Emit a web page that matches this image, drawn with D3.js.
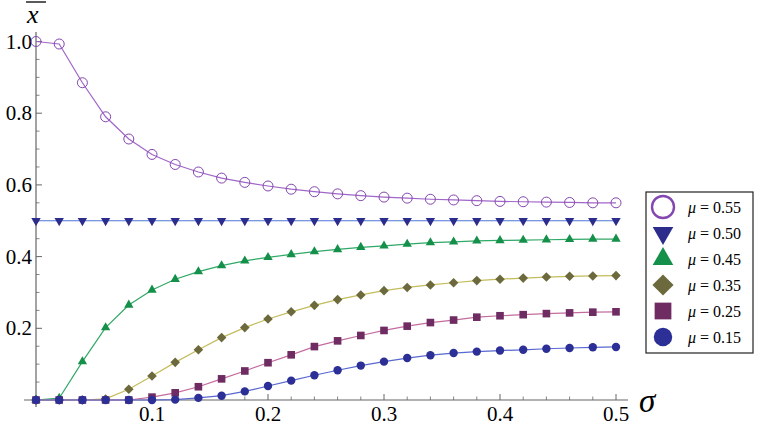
<!DOCTYPE html>
<html>
<head>
<meta charset="utf-8">
<script src="https://cdn.jsdelivr.net/npm/d3@7"></script>
</head>
<body style="margin:0">
<svg id="chart" width="757" height="428"></svg>
<script>

const sigmas = d3.range(26).map((i) => +(i * 0.02).toFixed(2));

const mus = ['0.55', '0.50', '0.45', '0.35', '0.25', '0.15'];

const mu055 = [1.0, 0.993, 0.885, 0.79, 0.728, 0.685, 0.657, 0.636, 0.619, 0.607, 0.597, 0.588, 0.581,
  0.575, 0.570, 0.566, 0.563, 0.560, 0.558, 0.556, 0.554, 0.553, 0.552, 0.551, 0.550, 0.550];
const mu050 = sigmas.map(() => 0.5);
const mu045 = [0, 0.005, 0.107, 0.202, 0.265, 0.307, 0.337, 0.358, 0.375, 0.388, 0.398, 0.406, 0.414,
  0.420, 0.426, 0.430, 0.435, 0.439, 0.441, 0.444, 0.445, 0.446, 0.447, 0.448, 0.449, 0.449];
const mu035 = [0, 0, 0, 0.003, 0.030, 0.067, 0.105, 0.140, 0.174, 0.202, 0.226, 0.246, 0.264,
  0.280, 0.293, 0.305, 0.314, 0.321, 0.327, 0.333, 0.337, 0.340, 0.343, 0.345, 0.346, 0.347];
const mu025 = [0, 0, 0, 0, 0, 0.008, 0.020, 0.037, 0.059, 0.081, 0.104, 0.126, 0.149,
  0.165, 0.180, 0.194, 0.206, 0.216, 0.223, 0.231, 0.235, 0.238, 0.241, 0.243, 0.245, 0.246];
const mu015 = [0, 0, 0, 0, 0, 0, 0.001, 0.006, 0.012, 0.024, 0.039, 0.054, 0.069,
  0.083, 0.096, 0.107, 0.117, 0.125, 0.131, 0.135, 0.138, 0.140, 0.143, 0.145, 0.147, 0.148];

const xTicks = [0.1, 0.2, 0.3, 0.4, 0.5];
const yTicks = [0.2, 0.4, 0.6, 0.8, 1.0];

const SERIF = '"Liberation Serif"';

const series = [
  { mu: mus[0], values: mu055, shape: 'openCircle', line: '#a066c8', color: '#8446b0' },
  { mu: mus[1], values: mu050, shape: 'triDown', line: '#4f74d6', color: '#2c2c8c' },
  { mu: mus[2], values: mu045, shape: 'triUp', line: '#30a866', color: '#14904a' },
  { mu: mus[3], values: mu035, shape: 'diamond', line: '#c4bc5c', color: '#6c6a3c' },
  { mu: mus[4], values: mu025, shape: 'square', line: '#c46c9e', color: '#6e2c62' },
  { mu: mus[5], values: mu015, shape: 'circle', line: '#5868d0', color: '#2c3096' }
];

const x = d3.scaleLinear().domain([0, 0.5]).range([36, 616]);
const y = d3.scaleLinear().domain([0, 1]).range([400, 41.5]);

const svg = d3.select('#chart');

svg.append('rect').attr('width', 757).attr('height', 428).attr('fill', '#fff');

// axes
const axisColor = '#666';

svg.append('line')
  .attr('x1', 24).attr('x2', 628)
  .attr('y1', y(0)).attr('y2', y(0))
  .attr('stroke', axisColor).attr('stroke-width', 1.2);

svg.append('line')
  .attr('x1', x(0)).attr('x2', x(0))
  .attr('y1', 407).attr('y2', 32)
  .attr('stroke', axisColor).attr('stroke-width', 1.2);

const xMinor = d3.range(1, 26).map((i) => i * 0.02).filter((v) => Math.abs(v * 10 - Math.round(v * 10)) > 1e-6);
const yMinor = d3.range(1, 21).map((i) => i * 0.05).filter((v) => Math.abs(v * 5 - Math.round(v * 5)) > 1e-6);

svg.append('g').selectAll('line')
  .data(xTicks)
  .enter().append('line')
    .attr('x1', (d) => x(d)).attr('x2', (d) => x(d))
    .attr('y1', y(0)).attr('y2', y(0) - 6)
    .attr('stroke', axisColor);

svg.append('g').selectAll('line')
  .data(xMinor)
  .enter().append('line')
    .attr('x1', (d) => x(d)).attr('x2', (d) => x(d))
    .attr('y1', y(0)).attr('y2', y(0) - 3.5)
    .attr('stroke', axisColor).attr('stroke-width', 0.8);

svg.append('g').selectAll('line')
  .data(yTicks)
  .enter().append('line')
    .attr('x1', x(0)).attr('x2', x(0) + 6)
    .attr('y1', (d) => y(d)).attr('y2', (d) => y(d))
    .attr('stroke', axisColor);

svg.append('g').selectAll('line')
  .data(yMinor)
  .enter().append('line')
    .attr('x1', x(0)).attr('x2', x(0) + 3.5)
    .attr('y1', (d) => y(d)).attr('y2', (d) => y(d))
    .attr('stroke', axisColor).attr('stroke-width', 0.8);

svg.selectAll('text.xtick')
  .data(xTicks)
  .enter().append('text')
    .attr('class', 'xtick')
    .attr('x', (d) => x(d))
    .attr('y', 421)
    .attr('text-anchor', 'middle')
    .attr('font-size', 21)
    .style('font-family', SERIF)
    .text((d) => d3.format('.1f')(d));

svg.selectAll('text.ytick')
  .data(yTicks)
  .enter().append('text')
    .attr('class', 'ytick')
    .attr('x', 32)
    .attr('y', (d) => y(d) + 7)
    .attr('text-anchor', 'end')
    .attr('font-size', 21)
    .style('font-family', SERIF)
    .text((d) => d3.format('.1f')(d));

// axis labels
svg.append('text')
  .attr('x', 639).attr('y', 412)
  .attr('font-size', 33)
  .style('font-family', SERIF)
  .style('font-style', 'italic')
  .text('σ');

svg.append('text')
  .attr('x', 27).attr('y', 23)
  .attr('font-size', 26)
  .style('font-family', SERIF)
  .style('font-style', 'italic')
  .text('x');
svg.append('line')
  .attr('x1', 26).attr('x2', 46)
  .attr('y1', 2).attr('y2', 2)
  .attr('stroke', '#000').attr('stroke-width', 1.3);

// marker drawing
const drawMarker = (sel, shape, color, s) => {
  switch (shape) {
    case 'openCircle':
      sel.append('circle').attr('r', 5 * s)
        .attr('fill', 'none').attr('stroke', color).attr('stroke-width', s > 1 ? 2.4 : 1);
      break;
    case 'circle':
      sel.append('circle').attr('r', 4.2 * s).attr('fill', color);
      break;
    case 'triUp':
      sel.append('path').attr('d', d3.symbol(d3.symbolTriangle, 38 * s * s)()).attr('fill', color);
      break;
    case 'triDown':
      sel.append('path').attr('d', d3.symbol(d3.symbolTriangle, 38 * s * s)())
        .attr('transform', 'rotate(180)').attr('fill', color);
      break;
    case 'diamond':
      sel.append('path').attr('d', d3.symbol(d3.symbolSquare, 46 * s * s)())
        .attr('transform', 'rotate(45)').attr('fill', color);
      break;
    case 'square':
      sel.append('path').attr('d', d3.symbol(d3.symbolSquare, 58 * s * s)()).attr('fill', color);
      break;
  }
};

const line = d3.line()
  .x((d, i) => x(sigmas[i]))
  .y((d) => y(d));

series.forEach((ser) => {
  svg.append('path')
    .datum(ser.values)
    .attr('d', line)
    .attr('fill', 'none')
    .attr('stroke', ser.line)
    .attr('stroke-width', 1.2);

  const marks = svg.append('g').selectAll('g')
    .data(ser.values)
    .enter().append('g')
      .attr('transform', (d, i) => `translate(${x(sigmas[i])}, ${y(d)})`);

  marks.each(function () { drawMarker(d3.select(this), ser.shape, ser.color, 1); });
});

// legend
const legend = svg.append('g').attr('transform', 'translate(646, 192)');

legend.append('rect')
  .attr('width', 107).attr('height', 161)
  .attr('fill', '#fff').attr('stroke', '#222').attr('stroke-width', 1.2);

const rows = legend.selectAll('g.row')
  .data(series)
  .enter().append('g')
    .attr('class', 'row')
    .attr('transform', (d, i) => `translate(17, ${15 + i * 26})`);

rows.each(function (d) { drawMarker(d3.select(this), d.shape, d.color, 2.2); });

const labels = rows.append('text')
  .attr('x', 25)
  .attr('y', 5.5)
  .attr('font-size', 16)
  .style('font-family', SERIF);

labels.append('tspan').style('font-style', 'italic').text('μ');
labels.append('tspan').text((d) => ` = ${d.mu}`);

</script>
</body>
</html>
